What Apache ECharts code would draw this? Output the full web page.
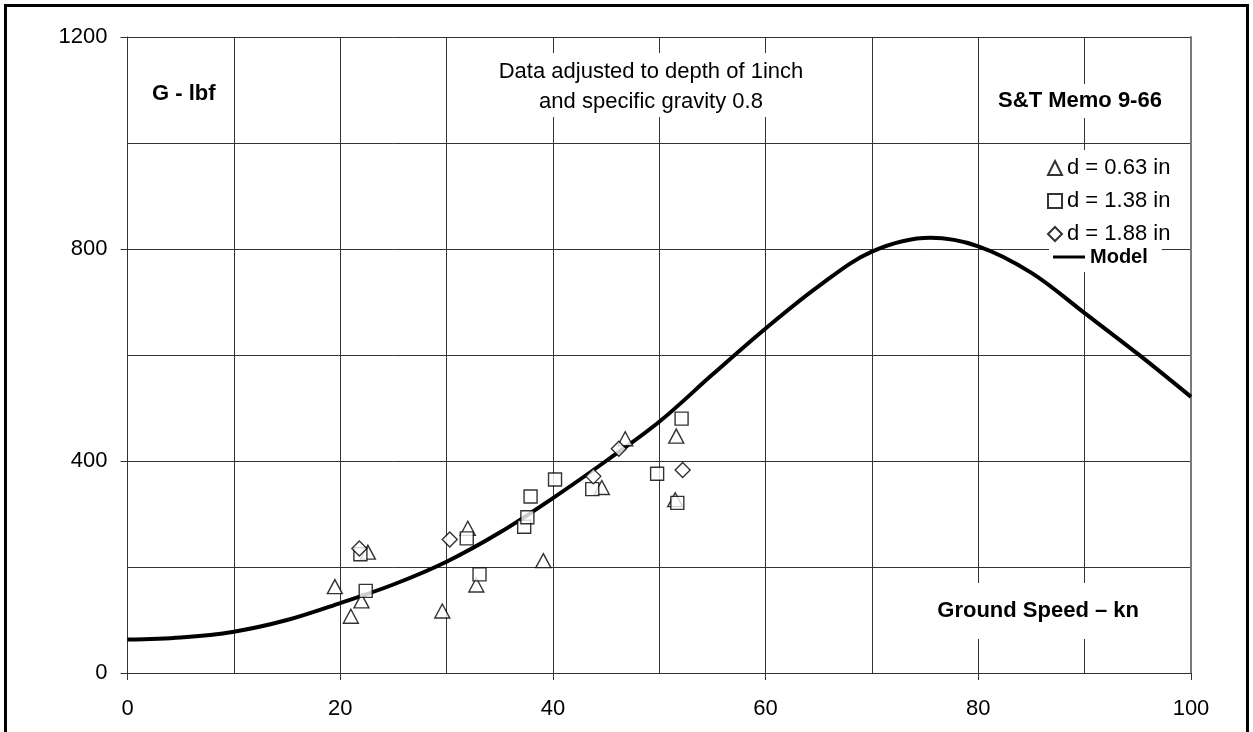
<!DOCTYPE html>
<html>
<head>
<meta charset="utf-8">
<title>G - lbf vs Ground Speed</title>
<script src="https://cdn.jsdelivr.net/npm/echarts@6/dist/echarts.min.js"></script>
<style>
  html, body { margin: 0; padding: 0; background: #fff; }
  #chart { width: 1253px; height: 732px; }
</style>
</head>
<body>
<div id="chart"></div>
<script>
// Measured drag force G (lbf) against ground speed (kn), three tyre depths
const d063 = [
  [19.5, 163], [21.0, 107], [22.0, 136], [22.6, 228], [29.6, 117], [32.0, 273],
  [32.8, 166], [39.1, 212], [44.6, 350], [46.8, 442], [51.6, 447], [51.5, 327]
];
const d138 = [
  [21.9, 224], [22.4, 155], [31.9, 254], [33.1, 186], [37.3, 276], [37.6, 294],
  [37.9, 333], [40.2, 365], [43.7, 347], [49.8, 376], [51.7, 321], [52.1, 480]
];
const d188 = [
  [21.8, 235], [30.3, 252], [43.8, 371], [46.2, 423], [52.2, 383]
];

// Model curve
const modelSpeed = [0, 5, 10, 15, 20, 25, 30, 35, 40, 45, 50, 55, 60, 65, 70, 75.5, 80, 85, 90, 95, 100];
const modelG     = [63, 67, 78, 100, 132, 167, 210, 265, 330, 400, 474, 563, 650, 730, 795, 821, 805, 755, 679, 602, 521];

const seriesNames = ['d = 0.63 in', 'd = 1.38 in', 'd = 1.88 in', 'Model'];
const xTicks = { min: 0, max: 100, interval: 20 };
const yTicks = { min: 0, max: 1200, interval: 400 };

const FONT = '"Liberation Sans", Arial, Helvetica, sans-serif';
const GRID_COLOR = '#333';

const chart = echarts.init(document.getElementById('chart'), null, { renderer: 'canvas' });

const markerStyle = { color: '#fff', borderColor: '#000', borderWidth: 1.4 };

chart.setOption({
  backgroundColor: '#fff',
  animation: false,
  textStyle: { fontFamily: FONT },
  grid: { left: 127.5, right: 62, top: 37, bottom: 59, containLabel: false },
  xAxis: {
    type: 'value',
    min: xTicks.min, max: xTicks.max, interval: xTicks.interval,
    axisLine: { show: true, onZero: false, lineStyle: { color: GRID_COLOR, width: 1 } },
    axisTick: { show: true, inside: false, length: 7, lineStyle: { color: GRID_COLOR } },
    axisLabel: { fontSize: 22, color: '#000', margin: 25, fontFamily: FONT },
    splitLine: { show: true, lineStyle: { color: GRID_COLOR, width: 1 } },
    minorTick: { show: false, splitNumber: 2 },
    minorSplitLine: { show: true, lineStyle: { color: GRID_COLOR, width: 1 } }
  },
  yAxis: [{
    type: 'value',
    min: yTicks.min, max: yTicks.max, interval: yTicks.interval,
    axisLine: { show: true, lineStyle: { color: GRID_COLOR, width: 1 } },
    axisTick: { show: true, inside: false, length: 7, lineStyle: { color: GRID_COLOR } },
    axisLabel: { fontSize: 22, color: '#000', margin: 20, fontFamily: FONT, formatter: v => String(v) },
    splitLine: { show: true, lineStyle: { color: GRID_COLOR, width: 1 } },
    minorTick: { show: false, splitNumber: 2 },
    minorSplitLine: { show: true, lineStyle: { color: GRID_COLOR, width: 1 } }
  }, {
    type: 'value',
    position: 'right',
    min: yTicks.min, max: yTicks.max, interval: yTicks.interval,
    axisLine: { show: true, lineStyle: { color: '#7a7a7a', width: 2 } },
    axisTick: { show: false },
    axisLabel: { show: false },
    splitLine: { show: false }
  }],
  legend: [{
    data: seriesNames.slice(0, 3),
    orient: 'vertical',
    left: 1042, top: 150,
    itemWidth: 14, itemHeight: 14, itemGap: 11,
    padding: [7, 10, 3, 5],
    backgroundColor: '#fff',
    selectedMode: false,
    textStyle: { fontSize: 22, lineHeight: 22, color: '#000', fontFamily: FONT }
  }, {
    data: [{ name: 'Model', icon: 'rect' }],
    orient: 'vertical',
    left: 1049, top: 244,
    itemWidth: 32, itemHeight: 3,
    padding: [2, 14, 4, 4],
    backgroundColor: '#fff',
    selectedMode: false,
    textStyle: { fontSize: 20, lineHeight: 22, fontWeight: 'bold', color: '#000', fontFamily: FONT }
  }],
  series: [
    {
      name: seriesNames[3], type: 'line', z: 2,
      data: modelSpeed.map((s, i) => [s, modelG[i]]),
      smooth: 0.35, showSymbol: false, symbol: 'none',
      lineStyle: { color: '#000', width: 4 },
      itemStyle: { color: '#000' }
    },
    {
      name: seriesNames[0], type: 'scatter', z: 3,
      data: d063, symbol: 'triangle', symbolSize: [15, 14],
      itemStyle: markerStyle
    },
    {
      name: seriesNames[1], type: 'scatter', z: 3,
      data: d138, symbol: 'rect', symbolSize: 13,
      itemStyle: markerStyle
    },
    {
      name: seriesNames[2], type: 'scatter', z: 3,
      data: d188, symbol: 'diamond', symbolSize: [15, 15],
      itemStyle: markerStyle
    }
  ],
  graphic: [
    {
      type: 'text', z: 10, left: 152, top: 83,
      style: { text: 'G - lbf', font: 'bold 22px ' + FONT, fill: '#000' }
    },
    {
      type: 'text', z: 10, x: 651, y: 53,
      style: {
        text: 'Data adjusted to depth of 1inch\nand specific gravity 0.8',
        font: '22px ' + FONT, fill: '#000', align: 'center', verticalAlign: 'top',
        lineHeight: 30, backgroundColor: '#fff', padding: [4, 6, 0, 6]
      }
    },
    {
      type: 'text', z: 10, x: 1080, y: 101,
      style: {
        text: 'S&T Memo 9-66', font: 'bold 22px ' + FONT, fill: '#000',
        align: 'center', verticalAlign: 'middle',
        backgroundColor: '#fff', padding: [7, 4, 5, 4]
      }
    },
    {
      type: 'text', z: 10, x: 1143, y: 611,
      style: {
        text: 'Ground Speed \u2013 kn', font: 'bold 22px ' + FONT, fill: '#000',
        align: 'right', verticalAlign: 'middle',
        backgroundColor: '#fff', padding: [12, 4, 22, 4]
      }
    },
    {
      type: 'rect', z: 20, silent: true,
      shape: { x: 5.5, y: 5.5, width: 1242, height: 760 },
      style: { fill: 'none', stroke: '#000', lineWidth: 3 }
    }
  ]
});
</script>
</body>
</html>
